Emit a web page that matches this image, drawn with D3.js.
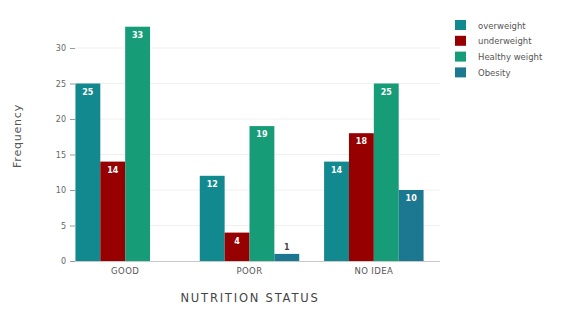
<!DOCTYPE html>
<html><head><meta charset="utf-8">
<script src="https://cdn.jsdelivr.net/npm/d3@7"></script>
<style>body{margin:0;background:#fff}svg{display:block}text{font-family:"DejaVu Sans",sans-serif}</style>
</head><body>
<svg id="c" width="563" height="311"></svg>
<script>
const categories = ["GOOD", "POOR", "NO IDEA"];
const seriesNames = ["overweight", "underweight", "Healthy weight", "Obesity"];
const overweight = [25, 12, 14];
const underweight = [14, 4, 18];
const healthyWeight = [33, 19, 25];
const obesity = [0, 1, 10];
const yTicks = [0, 5, 10, 15, 20, 25, 30];
const colors = ["#11898e", "#960000", "#179c78", "#1c7891"];
const seriesValues = [overweight, underweight, healthyWeight, obesity];

const svg = d3.select("#c");
const x0 = d3.scaleBand().domain(categories).range([63, 436]).paddingInner(0.2).paddingOuter(0.1);
const x1 = d3.scaleBand().domain(seriesNames).range([0, x0.bandwidth()]);
const y = d3.scaleLinear().domain([0, 30]).range([261, 48]);

// grid
svg.append("g").selectAll("line").data(yTicks.slice(1)).join("line")
  .attr("x1", 75).attr("x2", 440).attr("y1", d => y(d)).attr("y2", d => y(d))
  .attr("stroke", "#f0f0f0").attr("stroke-width", 1);

// y axis
const yAxis = svg.append("g").attr("transform", "translate(75,0)")
  .call(d3.axisLeft(y).tickValues(yTicks).tickSize(5).tickPadding(4));
yAxis.select(".domain").remove();
yAxis.selectAll(".tick line").attr("stroke", "#999");
yAxis.selectAll(".tick text").attr("fill", "#666").style("font-size", "8px");

// bars
seriesNames.forEach((s, si) => {
  const g = svg.append("g");
  categories.forEach((c, ci) => {
    const v = seriesValues[si][ci];
    if (!v) return;
    const bx = x0(c) + x1(s);
    g.append("rect").attr("x", bx).attr("y", y(v)).attr("width", x1.bandwidth()).attr("height", y(0) - y(v))
      .attr("fill", colors[si]);
    const inside = (y(0) - y(v)) > 15;
    g.append("text").attr("x", bx + x1.bandwidth() / 2)
      .attr("y", inside ? y(v) + 11 : y(v) - 4)
      .attr("text-anchor", "middle").style("font-size", "8px").style("font-weight", "bold")
      .attr("fill", inside ? "#fff" : "#444").text(v);
  });
});

// x axis
svg.append("line").attr("x1", 75).attr("x2", 440).attr("y1", 261.5).attr("y2", 261.5).attr("stroke", "#c8c8c8");
svg.append("g").selectAll("text").data(categories).join("text")
  .attr("x", d => x0(d) + x0.bandwidth() / 2).attr("y", 274)
  .attr("text-anchor", "middle").attr("fill", "#555").style("font-size", "8.5px").style("letter-spacing", "0.4px").text(d => d);

// axis titles
svg.append("text").attr("x", 250).attr("y", 302).attr("text-anchor", "middle")
  .attr("fill", "#444").style("font-size", "11.5px").style("letter-spacing", "1.8px").text("NUTRITION STATUS");
svg.append("text").attr("transform", "translate(21,136) rotate(-90)").attr("text-anchor", "middle")
  .attr("fill", "#555").style("font-size", "11px").style("letter-spacing", "0.8px").text("Frequency");

// legend
const lg = svg.append("g").selectAll("g").data(seriesNames).join("g")
  .attr("transform", (d, i) => `translate(455,${20 + i * 15.8})`);
lg.append("rect").attr("width", 11).attr("height", 10).attr("fill", (d, i) => colors[i]);
lg.append("text").attr("x", 23).attr("y", 8.5).attr("fill", "#555").style("font-size", "8.5px").text(d => d);
</script>
</body></html>
